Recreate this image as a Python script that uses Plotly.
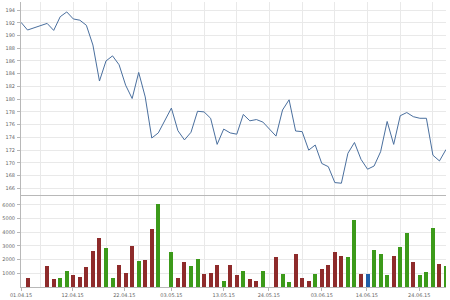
import plotly.graph_objects as go

# trading-slot index 0..65 (None = no data in that slot)
price = [192.07, 190.86, None, None, 191.9, 190.8, 192.95, 193.7, 192.6, 192.4,
         191.6, 188.5, 182.85, 186.0, 186.8, 185.4, 182.2, 180.1, 184.2, 180.35,
         173.9, 174.7, None, 178.6, 175.05, 173.6, 174.8, 178.1, 178.0, 177.0,
         172.9, 175.3, 174.7, 174.5, 177.6, 176.6, 176.8, 176.4, None, 174.2,
         178.3, 179.9, 175.0, 174.9, 172.0, 172.8, 169.9, 169.4, 166.9, 166.8,
         171.5, 173.2, 170.55, 169.0, 169.5, 171.75, 176.5, 172.9, 177.4, 177.9,
         177.25, 177.0, 177.0, 171.2, 170.3, 172.1]

volume = [None, 660, None, None, 1570, 610, 660, 1150, 900, 760,
          1470, 2670, 3580, 2820, 660, 1590, 1000, 2970, 1910, 1940,
          4220, 6050, None, 2570, 640, 1810, 1520, 2080, 955, 1030,
          1590, 465, 1590, 860, 1150, 610, 465, 1180, None, 2160,
          980, 390, 2430, 660, 440, 930, 1320, 1590, 2570, 2250,
          2230, 4930, 980, 980, 2700, 2450, 905, 2300, 2920, 3970,
          1810, 860, 1080, 4290, 1690, 1520]

# r = down day, g = up day, b = unchanged
direction = ["r", "r", "r", "r", "r", "r", "g", "g", "r", "r",
             "r", "r", "r", "g", "g", "r", "r", "r", "g", "r",
             "r", "g", "g", "g", "r", "r", "g", "g", "r", "r",
             "r", "g", "r", "r", "g", "r", "r", "g", "g", "r",
             "g", "g", "r", "r", "r", "g", "r", "r", "r", "r",
             "g", "g", "r", "b", "g", "g", "g", "r", "g", "g",
             "r", "g", "g", "g", "r", "g"]

tick_pos = [0, 7.9, 15.8, 23.0, 31.0, 37.9, 46.0, 52.9, 60.9]
tick_labels = ["01.04.15", "12.04.15", "22.04.15", "03.05.15", "13.05.15",
               "24.05.15", "03.06.15", "14.06.15", "24.06.15"]

price_ticks = list(range(166, 195, 2))
volume_ticks = [1000, 2000, 3000, 4000, 5000, 6000]

palette = {"r": "#8e2b2b", "g": "#3c9a1a", "b": "#1f5ea8"}

x = list(range(len(price)))
bar_colors = [palette[d] for d in direction]

fig = go.Figure()
fig.add_trace(go.Scatter(x=x, y=price, mode="lines", connectgaps=True,
                         line=dict(color="#4a6f9e", width=1),
                         xaxis="x", yaxis="y", showlegend=False))
fig.add_trace(go.Bar(x=x, y=volume, marker=dict(color=bar_colors, line=dict(width=0)),
                     width=0.62, xaxis="x2", yaxis="y2", showlegend=False))

font = dict(family="DejaVu Sans", size=5, color="#666666")
grid = "#e9e9e9"
axis_line = "#b8b8b8"

common_x = dict(range=[0, 65], showgrid=False, zeroline=False,
                minor=dict(tick0=3, dtick=5, showgrid=True, gridcolor=grid, gridwidth=1),
                tickfont=font)

fig.update_layout(
    width=450, height=300,
    margin=dict(l=16, r=4, t=2, b=13),
    paper_bgcolor="white", plot_bgcolor="white",
    bargap=0,
    xaxis=dict(**common_x, domain=[0, 1], anchor="y", showticklabels=False,
               showline=True, linecolor=axis_line, linewidth=1, ticks=""),
    yaxis=dict(domain=[0.3228, 1], range=[164.95, 195.26], tickvals=price_ticks,
               showgrid=True, gridcolor=grid, zeroline=False, showline=True,
               linecolor=axis_line, linewidth=1, ticks="outside", ticklen=3,
               tickcolor=axis_line, tickfont=font, ticklabelstandoff=1),
    xaxis2=dict(**common_x, domain=[0, 1], anchor="y2", tickvals=tick_pos,
                ticktext=tick_labels, ticks="outside", ticklen=3, tickcolor=axis_line,
                showline=True, linecolor=axis_line, linewidth=1),
    yaxis2=dict(domain=[0, 0.3193], range=[0, 6658], tickvals=volume_ticks,
                showgrid=True, gridcolor=grid, zeroline=False, showline=True,
                linecolor=axis_line, linewidth=1, ticks="outside", ticklen=3,
                tickcolor=axis_line, tickfont=font, ticklabelstandoff=1),
)

fig.write_html("out.html")
